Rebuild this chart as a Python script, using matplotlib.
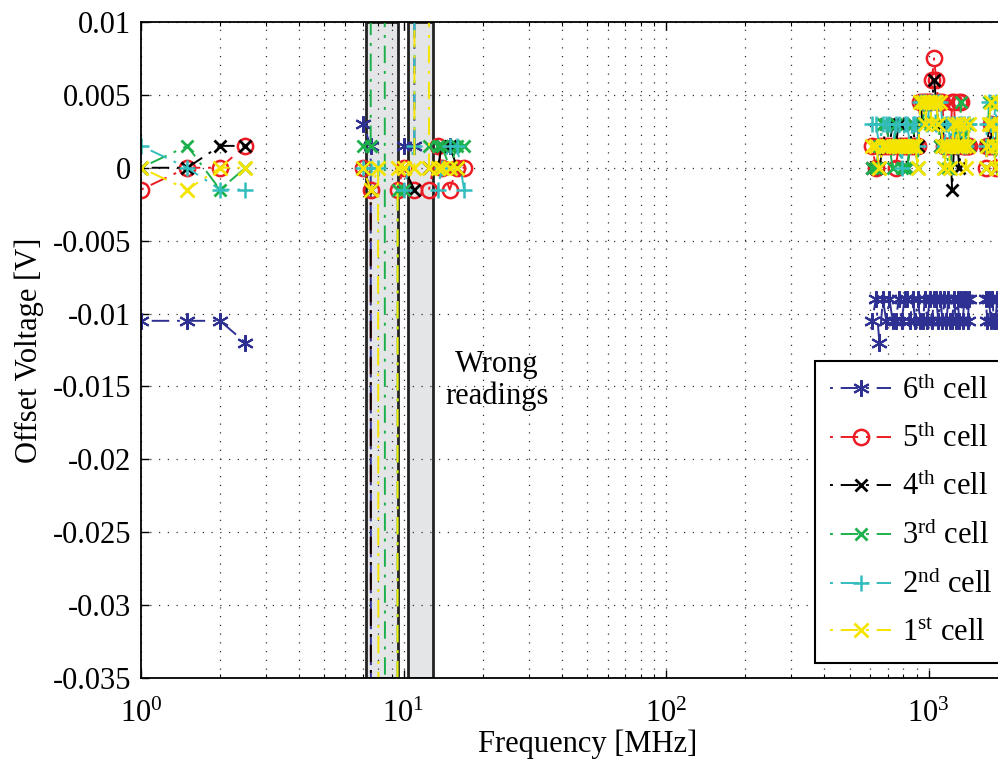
import numpy as np
import matplotlib
matplotlib.use('Agg')
import matplotlib.pyplot as plt
from matplotlib.ticker import LogLocator, NullFormatter

plt.rcParams['font.family'] = 'Liberation Serif'
plt.rcParams['mathtext.fontset'] = 'custom'
plt.rcParams['mathtext.rm'] = 'Liberation Serif'
plt.rcParams['mathtext.it'] = 'Liberation Serif:italic'
plt.rcParams['mathtext.bf'] = 'Liberation Serif:bold'

LSB = 0.0015          # one ADC step in volts
HI, LO = 1000, -1000  # out-of-range readings
nan = np.nan

# frequency sweep bands [MHz]
f_low = [1, 1.5, 2, 2.5]
f_mid = [7, 7.5, 8, 9, 9.5, 10, 11, 12, 12.5, 13.5, 14, 15, 16, 17]
f_high1 = [610, 630, 650, 670, 690, 710, 730, 750, 770, 790,
           810, 830, 850, 870, 890, 910, 930, 950, 970, 990,
           1010, 1030, 1050, 1070, 1090, 1110, 1130, 1150, 1170, 1190,
           1210, 1230, 1250, 1270, 1290, 1310, 1330, 1350, 1370, 1390,
           1410, 1430]
f_high2 = [1650, 1675, 1700, 1725, 1750, 1775, 1800, 1825, 1850, 1875,
           1900, 1925, 1950]

# offset readings in ADC steps, per cell and band
c6_low = [-7, -7, -7, -8]
c6_mid = [2, 1, LO, LO, nan, 1, 1, HI, nan, nan, nan, 1, nan, nan]
c6_high1 = [-7, -6, -8, -6, -7, -6, -7, -7, -6, -7, -6, -6, -7, -6, -7, -6, -7, -7, -6, -7,
            -6, -7, -6, -6, -7, -6, -7, -6, -7, -6, -7, -7, -6, -7, -6, -7, -6, -7, -6, -6,
            -7, -6]
c6_high2 = [-6, -7, -6, -7, -6, -7, -7, -6, -7, -6, -7, -6, -7]

c5_low = [-1, 0, 0, 1]
c5_mid = [0, -1, LO, nan, -1, 0, -1, nan, -1, 1, 0, -1, 0, 0]
c5_high1 = [1, 0, 1, 1, 1, 1, 1, 0, 1, 1, 1, 1, 1, 1, 1, 1, 3, 3, 3, 3,
            3, 4, 5, 4, 3, 3, 3, 1, 1, 1, 1, 3, 3, 1, 1, 3, 3, 1, 1, 1,
            1, 1]
c5_high2 = [0, 1, 1, 2, 1, 1, 0, 1, 2, 1, 1, 0, 1]

c4_low = [0, 0, 1, 1]
c4_mid = [0, -1, LO, nan, nan, 0, -1, nan, 0, 0, 1, 1, 0, nan]
c4_high1 = [0, 0, 0, 1, 2, 1, 2, 1, 2, 1, 1, 0, 1, 2, 1, 1, 3, 2, 3, 3,
            3, 3, 4, 3, 2, 1, 2, 1, 1, 1, 1, -1, 1, 2, 1, 0, 1, 2, 1, 1,
            1, 1]
c4_high2 = [1, 1, 2, 1, 2, 1, 1, 2, 1, 1, 2, 1, 1]

c3_low = [0, 1, -1, 0]
c3_mid = [1, 1, HI, LO, -1, -1, nan, nan, 1, 1, 1, 0, 1, 1]
c3_high1 = [0, 0, 1, 2, 2, 1, 0, 2, 1, 0, 0, 0, 1, 2, 1, 0, 3, 2, 3, 3,
            2, 3, 3, 3, 2, 1, 1, 0, 1, 0, 0, 1, 2, 1, 2, 1, 3, 1, 2, 1,
            2, 1]
c3_high2 = [0, 1, 3, 2, 2, 1, 0, 3, 1, 2, 0, 1, 3]

c2_low = [1, 0, -1, -1]
c2_mid = [0, 0, 0, nan, nan, -1, 1, HI, nan, -1, 0, 1, 1, -1]
c2_high1 = [2, 2, 1, 2, 2, 2, 1, 2, 2, 0, 2, 2, 1, 2, 2, 1, 3, 3, 3, 2,
            3, 3, 3, 2, 3, 3, 2, 1, 2, 2, 1, 2, 2, 1, 1, 2, 2, 1, 2, 1,
            2, 2]
c2_high2 = [1, 2, 3, 2, 1, 2, 3, 1, 2, 1, 2, 3, 1]

c1_low = [0, -1, 0, 0]
c1_mid = [0, -1, 0, LO, 0, 0, 0, HI, 0, 0, 0, 0, 0, nan]
c1_high1 = [1, 1, 0, 1, 1, 1, 1, 1, 1, 1, 1, 1, 1, 1, 1, 0, 3, 3, 2, 3,
            3, 2, 3, 3, 2, 3, 1, 0, 1, 1, 0, 1, 2, 1, 2, 1, 1, 2, 1, 0,
            1, 2]
c1_high2 = [0, 1, 2, 3, 2, 1, 0, 1, 3, 2, 1, 0, 2]

labels = [r'6$^{\rm th}$ cell', r'5$^{\rm th}$ cell', r'4$^{\rm th}$ cell',
          r'3$^{\rm rd}$ cell', r'2$^{\rm nd}$ cell', r'1$^{\rm st}$ cell']

# frequency bands flagged as wrong readings
wrong_bands = [(7.2, 9.5), (10.4, 13.0)]

yticks = [-0.035, -0.03, -0.025, -0.02, -0.015, -0.01, -0.005, 0, 0.005, 0.01]
yticklabels = ['-0.035', '-0.03', '-0.025', '-0.02', '-0.015', '-0.01',
               '-0.005', '0', '0.005', '0.01']


def join_bands(*bands):
    out = []
    for i, b in enumerate(bands):
        if i:
            out.append(nan)
        out.extend(b)
    return np.array(out, dtype=float)


freq = join_bands(f_low, f_mid, f_high1, f_high2)
cells = [
    (join_bands(c6_low, c6_mid, c6_high1, c6_high2), '#2E3192', (6, 2, 0), 12, 1.5, 'full'),
    (join_bands(c5_low, c5_mid, c5_high1, c5_high2), '#ED1C24', 'o', 11, 1.8, 'none'),
    (join_bands(c4_low, c4_mid, c4_high1, c4_high2), '#000000', 'x', 9, 2.0, 'full'),
    (join_bands(c3_low, c3_mid, c3_high1, c3_high2), '#1DB14B', 'x', 9, 2.0, 'full'),
    (join_bands(c2_low, c2_mid, c2_high1, c2_high2), '#33BDBD', '+', 11, 1.8, 'full'),
    (join_bands(c1_low, c1_mid, c1_high1, c1_high2), '#F5E400', 'x', 10, 2.0, 'full'),
]

FS = 22
fig = plt.figure(figsize=(9.98, 7.6), dpi=100)
ax = fig.add_axes([0.1413, 0.1079, 0.8943, 0.8632])

for lo, hi in wrong_bands:
    ax.axvspan(lo, hi, facecolor='#E4E5E7', edgecolor='#222222', lw=2.0, zorder=1)

# dash-dot, starting on the dot
dash = (13, (9, 4, 1.5, 4))
for (codes, color, marker, ms, mew, fill), lab in zip(cells, labels):
    ax.plot(freq, codes * LSB, linestyle=dash, lw=1.4, color=color,
            marker=marker, ms=ms, mew=mew, mec=color, fillstyle=fill,
            label=lab, zorder=2)

ax.set_xscale('log')
ax.set_xlim(1, 10 ** 3.4)
ax.set_ylim(-0.035, 0.01)
ax.set_yticks(yticks, yticklabels)
ax.xaxis.set_major_locator(LogLocator(base=10, numticks=10))
ax.xaxis.set_minor_locator(LogLocator(base=10, subs=np.arange(2, 10), numticks=10))
ax.xaxis.set_minor_formatter(NullFormatter())

ax.set_axisbelow('line')
ax.grid(True, which='major', linestyle=(0, (1, 6)), color='#333333', lw=0.9)
ax.grid(True, which='minor', axis='x', linestyle=(0, (1, 6)), color='#333333', lw=0.9)
ax.tick_params(which='both', direction='in', top=True, right=True, labelsize=FS)
ax.tick_params(which='major', length=6, width=1)
ax.tick_params(which='minor', length=3, width=0.8)
ax.tick_params(axis='y', pad=7)
ax.tick_params(axis='x', pad=16)
for s in ax.spines.values():
    s.set_linewidth(1.3)

ax.set_xlabel('Frequency [MHz]', fontsize=FS, labelpad=0)
ax.set_ylabel('Offset Voltage [V]', fontsize=FS, labelpad=6)

ax.text(22.7, -0.0146, 'Wrong\nreadings', ha='center', va='center',
        fontsize=FS, linespacing=1.1)

leg = ax.legend(loc='lower left', bbox_to_anchor=(0.755, 0.0229), fontsize=FS,
                frameon=True, fancybox=False, framealpha=1, edgecolor='black',
                handlelength=2.0, handletextpad=0.35, labelspacing=0.6,
                borderpad=0.5, borderaxespad=0, numpoints=1)
leg.get_frame().set_linewidth(1.5)

fig.savefig('out.png', dpi=100)
